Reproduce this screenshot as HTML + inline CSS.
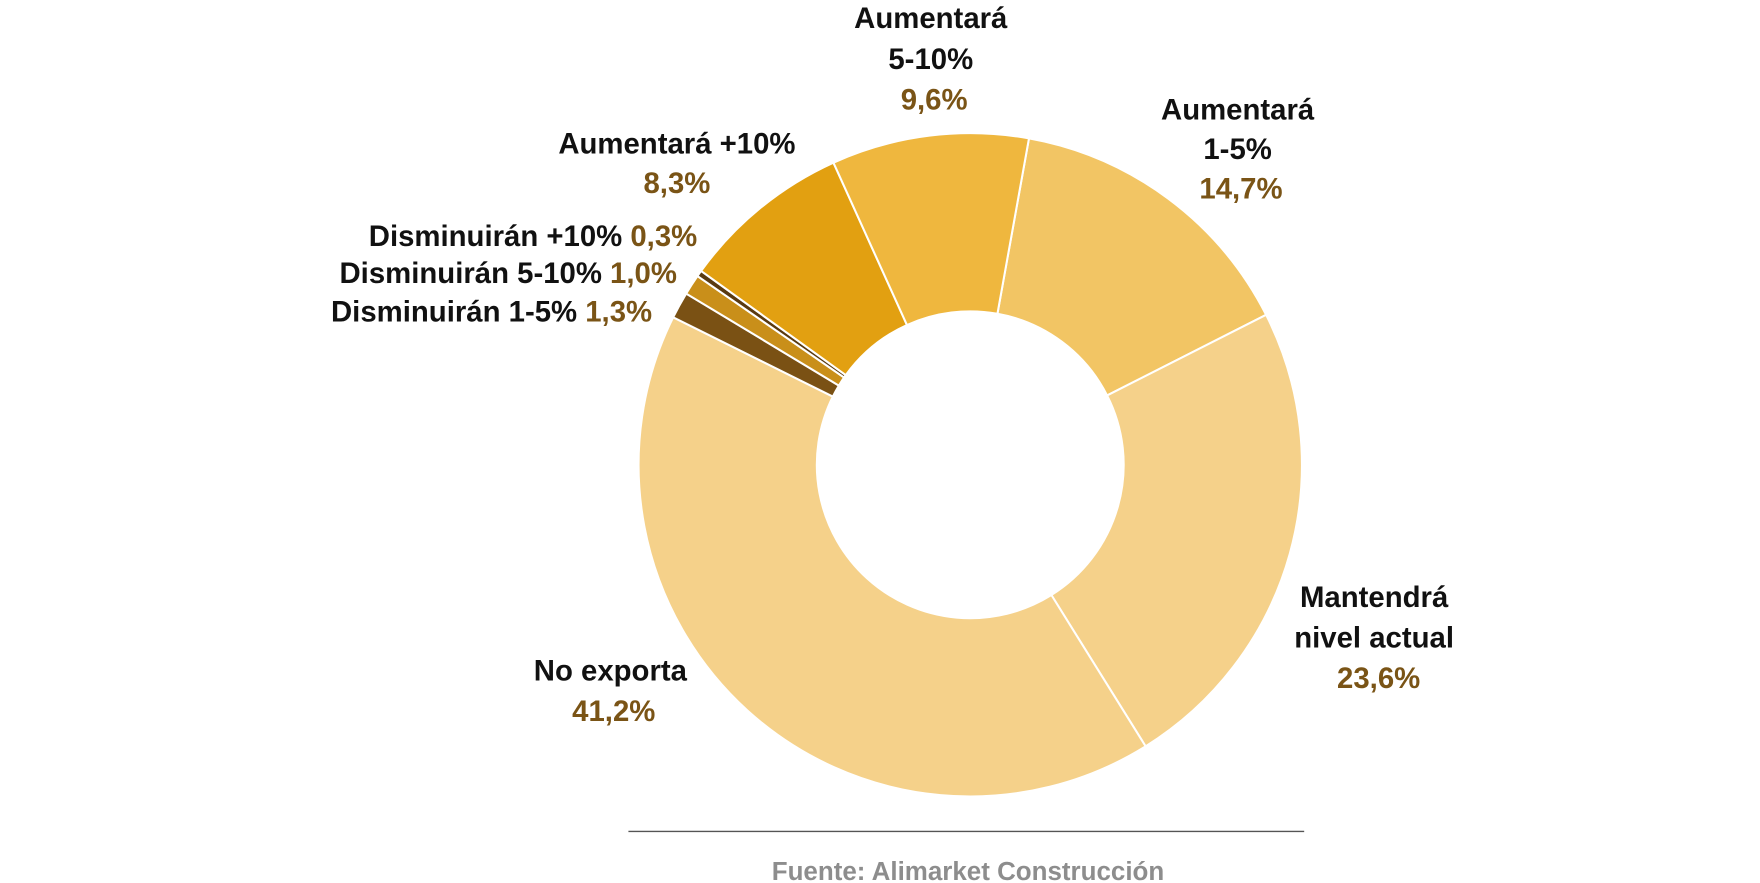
<!DOCTYPE html>
<html><head><meta charset="utf-8"><style>
html,body{margin:0;padding:0;background:#fff;width:1760px;height:883px;overflow:hidden}
text{font-family:"Liberation Sans",sans-serif;font-weight:bold;font-size:26px}
.k{fill:#111}.v{fill:#7a5416}
</style></head><body>
<svg id="s" width="1760" height="883" viewBox="0 0 1560 782.7" xmlns="http://www.w3.org/2000/svg">
<g id="pie"></g>
<g text-anchor="middle">
<text class="k" x="825" y="25">Aumentará</text>
<text class="k" x="825" y="61">5-10%</text>
<text class="v" x="828" y="97">9,6%</text>
<text class="k" x="1097" y="106">Aumentará</text>
<text class="k" x="1097" y="141">1-5%</text>
<text class="v" x="1100" y="176">14,7%</text>
<text class="k" x="600" y="136">Aumentará +10%</text>
<text class="v" x="600" y="171">8,3%</text>
<text class="k" x="1218" y="538">Mantendrá</text>
<text class="k" x="1218" y="574">nivel actual</text>
<text class="v" x="1222" y="610">23,6%</text>
<text class="k" x="541" y="603">No exporta</text>
<text class="v" x="544" y="639">41,2%</text>
</g>
<g text-anchor="end">
<text x="618" y="218"><tspan class="k">Disminuirán +10% </tspan><tspan class="v">0,3%</tspan></text>
<text x="600" y="251"><tspan class="k">Disminuirán 5-10% </tspan><tspan class="v">1,0%</tspan></text>
<text x="578" y="285"><tspan class="k">Disminuirán 1-5% </tspan><tspan class="v">1,3%</tspan></text>
</g>
<line x1="557" y1="737" x2="1156" y2="737" stroke="#555" stroke-width="1.3"/>
<text x="858" y="780" text-anchor="middle" style="fill:#8d8d8d;font-size:23px">Fuente: Alimarket Construcción</text>
</svg>
<script>
var cx=860,cy=412,R=294,r=136,a=10.2;
var d=[[14.7,"#f2c564"],[23.6,"#f5d18a"],[41.2,"#f5d18a"],[1.3,"#7a5114"],[1.0,"#c98f1a"],[0.3,"#5a3a10"],[8.3,"#e2a011"],[9.6,"#efb73e"]];
function p(ang,rad){var t=(ang-90)*Math.PI/180;return [cx+rad*Math.cos(t),cy+rad*Math.sin(t)];}
var g=document.getElementById("pie"),h="";
d.forEach(function(s){var b=a+s[0]*3.6,l=(b-a)>180?1:0;
var p1=p(a,R),p2=p(b,R),p3=p(b,r),p4=p(a,r);
h+='<path d="M'+p1+' A'+R+','+R+' 0 '+l+' 1 '+p2+' L'+p3+' A'+r+','+r+' 0 '+l+' 0 '+p4+' Z" fill="'+s[1]+'" stroke="#fff" stroke-width="1.8"/>';a=b;});
g.innerHTML=h;
</script>
</body></html>
